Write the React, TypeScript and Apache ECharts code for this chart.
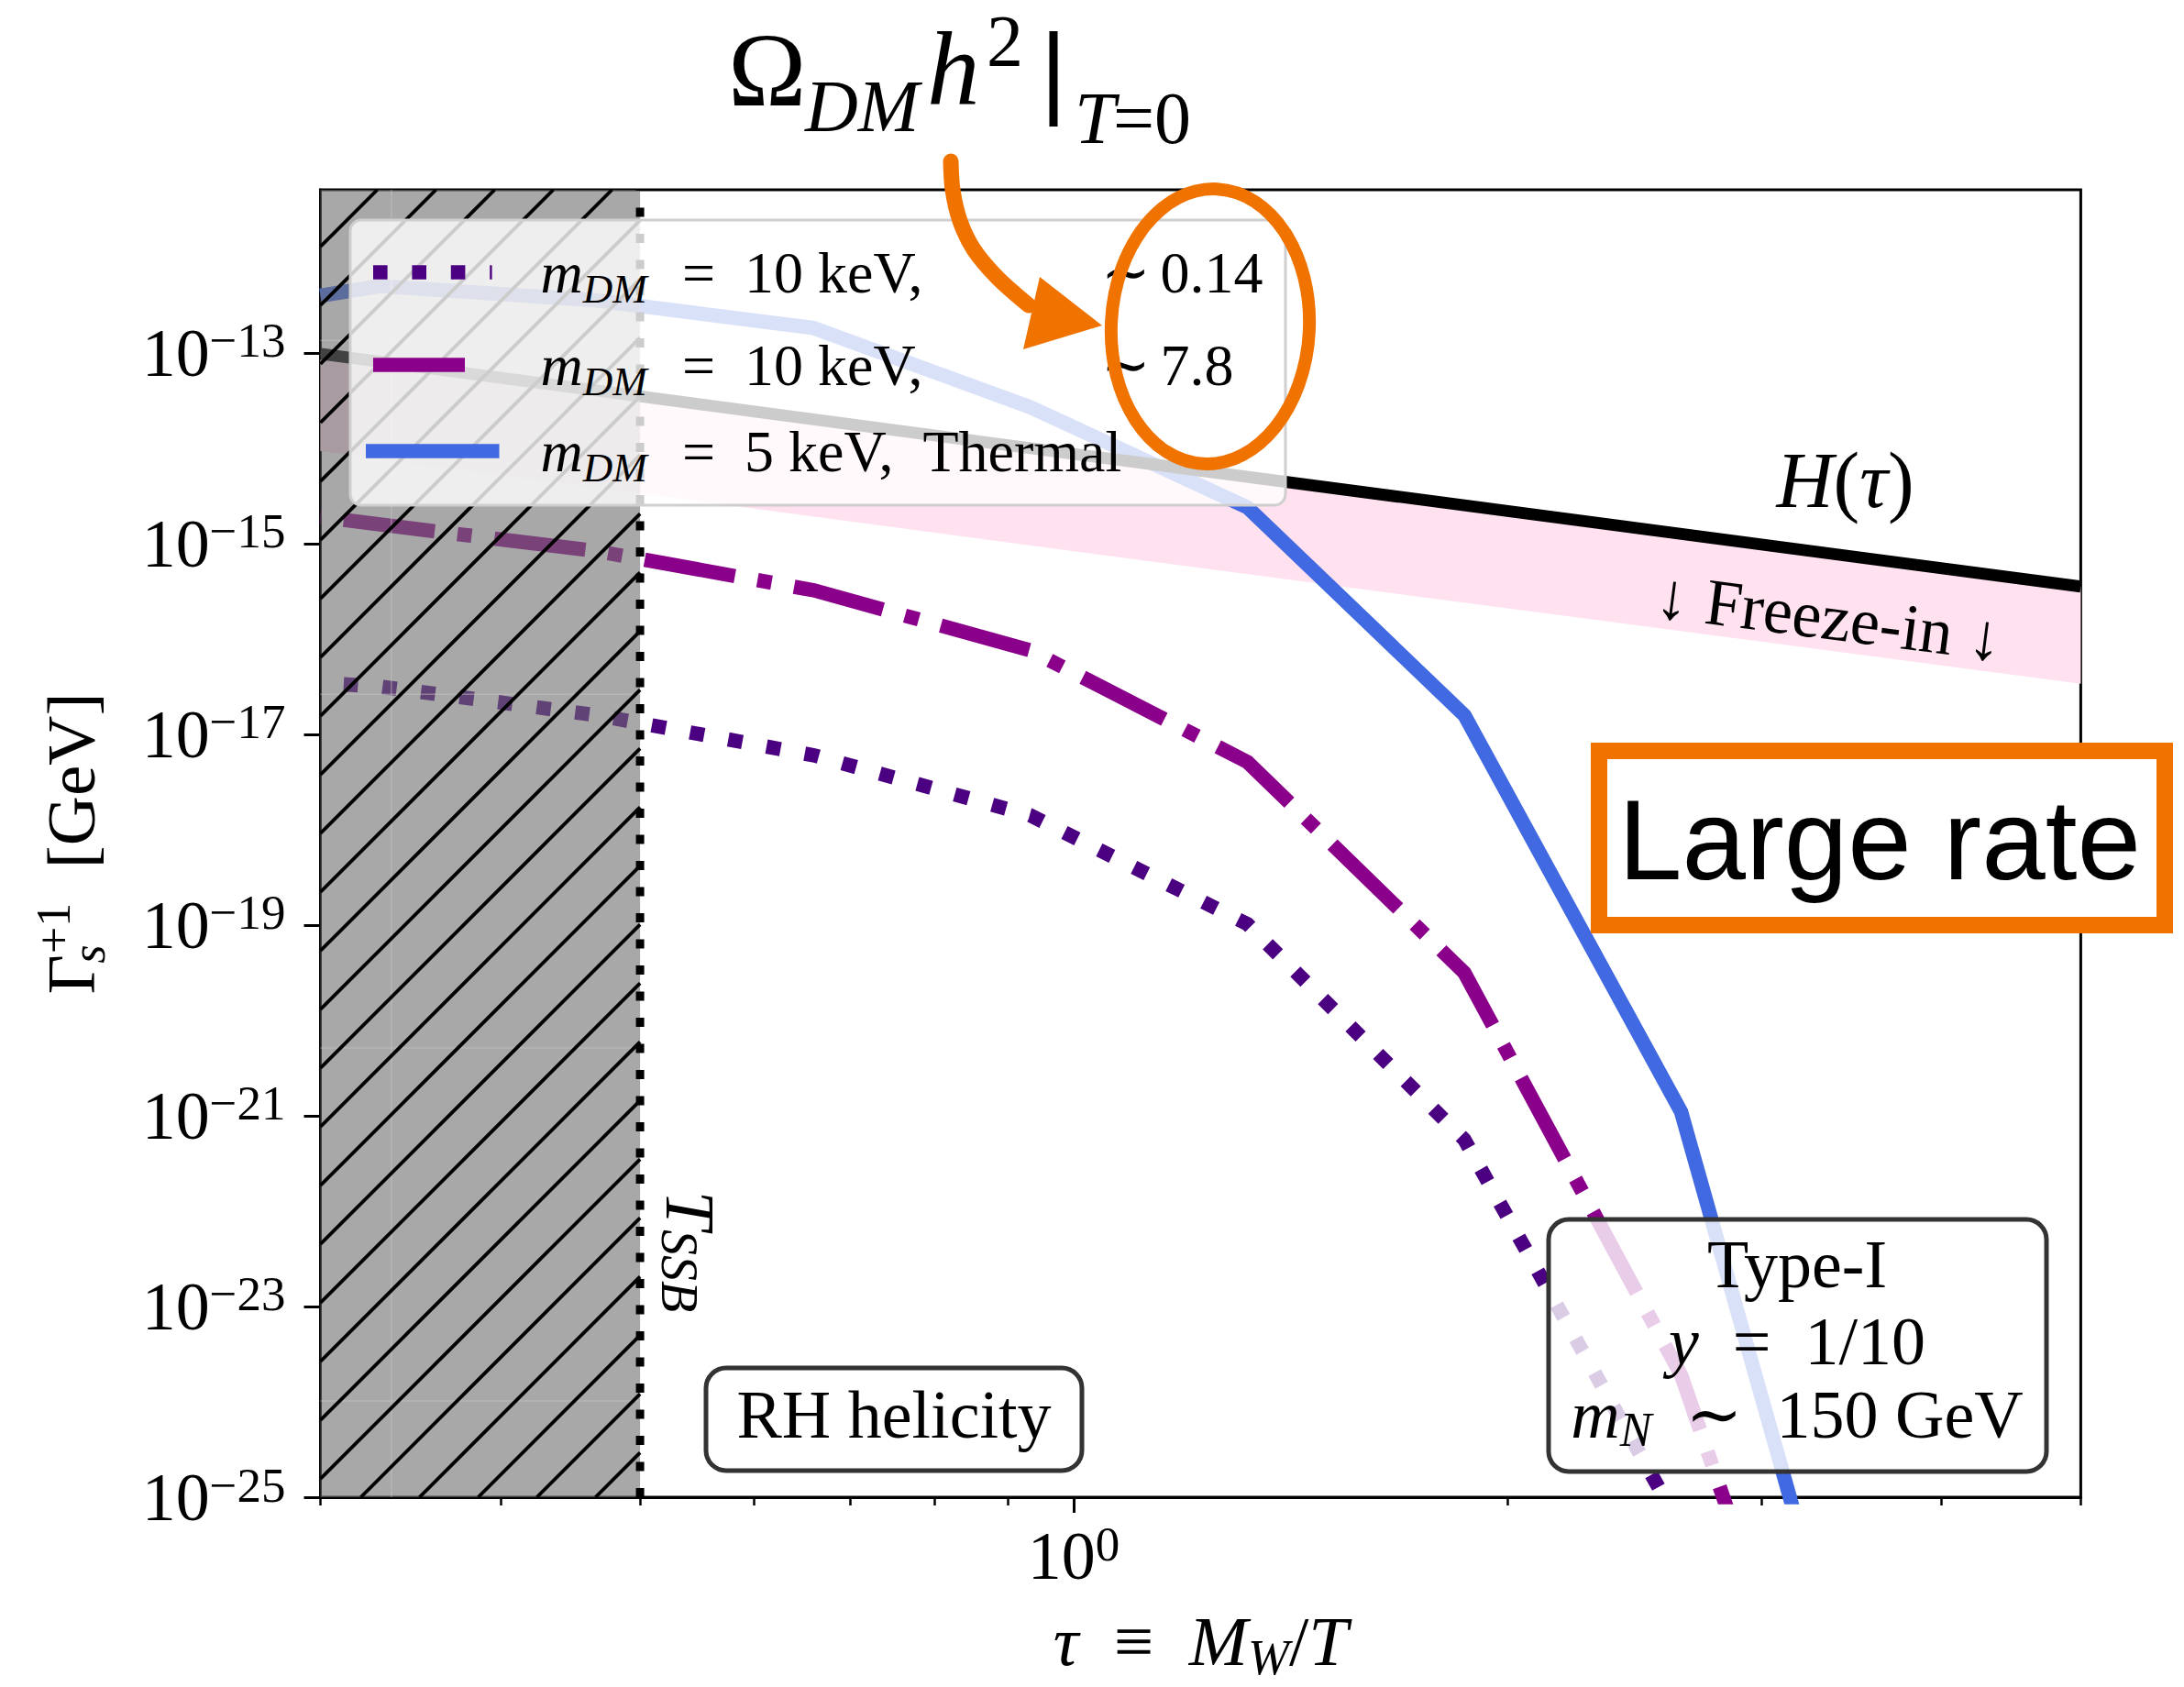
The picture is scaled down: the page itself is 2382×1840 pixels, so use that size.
import React, { useEffect, useRef } from 'react';
import * as echarts from 'echarts';

// ---------------- data (rates are log10(Γ / GeV)) ----------------
const tauGrid = [0.3, 0.33, 0.467, 0.66, 0.933, 1.32, 1.867, 2.64, 3.73];
const logRateDotted = [-16.46, -16.5, -16.8, -17.22, -17.85, -18.99, -21.25, -25.32, -32.0];
const logRateDashDot = [-14.72, -14.8, -15.08, -15.49, -16.12, -17.29, -19.5, -23.72, -30.3];
const logRateThermal = [-12.4, -12.3, -12.45, -12.74, -13.57, -14.62, -16.8, -20.96, -29.0];
const tauHubble = [0.3, 1, 5];
const logHubble = [-13.01, -14.06, -15.45];
const logFreezeInFloor = [-14.03, -15.08, -16.47];
const tauSSB = 0.5;
const tauRange = [0.3, 5];
const logRateRange = [-25, -11.29];
const yTickExponents = [-25, -23, -21, -19, -17, -15, -13];
const xMajorTicks = [1];
const xMinorTicks = [0.3, 0.4, 0.5, 0.6, 0.7, 0.8, 0.9, 2, 3, 4, 5];
const hatchGuideLogRate = [-12.87, -16.58, -20.29, -23.99];
const hatchGuideTau = [0.336];
const legendMass = ['10', '10', '5'];
const legendTail = ['', '', ',\u2002Thermal'];
const legendOmega = ['0.14', '7.8', ''];
const typeIBox = ['Type-I', '1/10', '150 GeV'];

// ---------------- styling ----------------
const lg = Math.log10;
const SERIF = "'Liberation Serif', 'DejaVu Serif', serif";
const SANS = "'Liberation Sans', 'DejaVu Sans', sans-serif";
const ORANGE = '#F07300';
const C_DOT = '#4B0082';
const C_DASHDOT = '#8B008B';
const C_THERMAL = '#4169E1';
const LW = 15.6;
const DASH_DOT = [LW, 26.8];
const DASH_DASHDOT = [100, 25, LW, 25];

const pairs = (ts: number[], vs: number[]) => ts.map((t, i) => [lg(t), vs[i]]);

function txt(x: number, y: number, text: string, size: number, extra: any = {}) {
  const { italic, align, rotation, rich, family, z } = extra;
  return {
    type: 'text',
    x,
    y,
    rotation: rotation || 0,
    z: z ?? 100,
    silent: true,
    style: {
      text,
      fill: '#000',
      fontSize: size,
      fontFamily: family || SERIF,
      fontStyle: italic ? 'italic' : 'normal',
      align: align || 'left',
      verticalAlign: 'middle',
      rich,
    },
  };
}

function buildOption(): any {
  const xMin = lg(tauRange[0]);
  const xMax = lg(tauRange[1]);
  const [yMin, yMax] = logRateRange;

  const tickRich = {
    b: { fontSize: 74, fontFamily: SERIF, lineHeight: 80, verticalAlign: 'middle', color: '#000' },
    s: { fontSize: 53, fontFamily: SERIF, lineHeight: 40, verticalAlign: 'top', color: '#000' },
  };

  const series: any[] = [
    {
      type: 'custom',
      name: 'Freeze-in band',
      coordinateSystem: 'cartesian2d',
      clip: true,
      silent: true,
      z: 1,
      data: tauHubble.map((t, i) => [lg(t), logHubble[i], logFreezeInFloor[i]]),
      renderItem: (params: any, api: any) => {
        if (params.dataIndex !== 0) return null;
        const top = tauHubble.map((t, i) => api.coord([lg(t), logHubble[i]]));
        const bot = tauHubble.map((t, i) => api.coord([lg(t), logFreezeInFloor[i]])).reverse();
        return { type: 'polygon', shape: { points: top.concat(bot) }, style: { fill: '#ffe1f0' } };
      },
    },
    {
      type: 'line',
      name: 'm_DM = 10 keV, Ω h² ∼ 0.14',
      data: pairs(tauGrid, logRateDotted),
      symbol: 'none',
      silent: true,
      z: 2,
      lineStyle: { color: C_DOT, width: LW, type: DASH_DOT, cap: 'butt', join: 'miter', dashOffset: 17 },
    },
    {
      type: 'line',
      name: 'm_DM = 10 keV, Ω h² ∼ 7.8',
      data: pairs(tauGrid, logRateDashDot),
      symbol: 'none',
      silent: true,
      z: 2,
      lineStyle: { color: C_DASHDOT, width: LW, type: DASH_DASHDOT, cap: 'butt', join: 'miter', dashOffset: 140 },
    },
    {
      type: 'line',
      name: 'm_DM = 5 keV, Thermal',
      data: pairs(tauGrid, logRateThermal),
      symbol: 'none',
      silent: true,
      z: 2,
      lineStyle: { color: C_THERMAL, width: LW, cap: 'butt', join: 'round' },
    },
    {
      type: 'line',
      name: 'H(τ)',
      data: pairs(tauHubble, logHubble),
      symbol: 'none',
      silent: true,
      z: 2,
      lineStyle: { color: '#000', width: 13, cap: 'butt' },
    },
    {
      type: 'custom',
      name: 'before SSB',
      coordinateSystem: 'cartesian2d',
      clip: true,
      silent: true,
      z: 4,
      data: [[xMin, lg(tauSSB)]],
      renderItem: (params: any, api: any) => {
        const a = api.coord([api.value(0), yMax]);
        const b = api.coord([api.value(1), yMin]);
        const x0 = a[0], y0 = a[1], x1 = b[0], y1 = b[1];
        const children: any[] = [
          { type: 'rect', shape: { x: x0, y: y0, width: x1 - x0, height: y1 - y0 }, style: { fill: 'rgba(110,110,110,0.6)' } },
        ];
        hatchGuideLogRate.forEach((gy) => {
          const p = api.coord([api.value(0), gy]);
          children.push({ type: 'line', shape: { x1: x0, y1: p[1], x2: x1, y2: p[1] }, style: { stroke: 'rgba(200,200,200,0.45)', lineWidth: 1.5 } });
        });
        hatchGuideTau.forEach((gt) => {
          const p = api.coord([lg(gt), yMin]);
          children.push({ type: 'line', shape: { x1: p[0], y1: y0, x2: p[0], y2: y1 }, style: { stroke: 'rgba(200,200,200,0.45)', lineWidth: 1.5 } });
        });
        const step = 64;
        for (let c = x0 + y0 + 62 - step; c <= x1 + y1 + step; c += step) {
          const xa = Math.max(x0, c - y1);
          const xb = Math.min(x1, c - y0);
          if (xb > xa) {
            children.push({ type: 'line', shape: { x1: xa, y1: c - xa, x2: xb, y2: c - xb }, style: { stroke: '#000', lineWidth: 3.8 } });
          }
        }
        return { type: 'group', children };
      },
    },
    {
      type: 'line',
      name: 'T_SSB',
      data: [[lg(tauSSB), yMin], [lg(tauSSB), yMax]],
      symbol: 'none',
      silent: true,
      z: 5,
      lineStyle: { color: '#000', width: 9, type: [10, 18.5], cap: 'butt' },
    },
  ];

  // ---------------- legend (drawn as graphics over the plot) ----------------
  const legendRowsY = [297, 398, 492];
  const legendColors = [C_DOT, C_DASHDOT, C_THERMAL];
  const legendDash: any[] = [DASH_DOT, DASH_DASHDOT, null];
  const legendEnd = [536.6, 531, 544.5];
  const legendMain = { fontSize: 64, fontFamily: SERIF, fontStyle: 'italic', lineHeight: 80, verticalAlign: 'middle', color: '#000' };
  const legendSub = { fontSize: 45, fontFamily: SERIF, fontStyle: 'italic', lineHeight: 46, verticalAlign: 'bottom', color: '#000' };
  const graphic: any[] = [
    {
      type: 'rect',
      z: 50,
      silent: true,
      shape: { x: 382, y: 240, width: 1020, height: 311, r: 12 },
      style: { fill: 'rgba(255,255,255,0.8)', stroke: '#cfcfcf', lineWidth: 3 },
    },
  ];
  legendRowsY.forEach((y, i) => {
    const solid = !legendDash[i];
    graphic.push({
      type: 'line',
      z: 51,
      silent: true,
      shape: { x1: solid ? 399 : 407, y1: y, x2: legendEnd[i], y2: y },
      style: { stroke: legendColors[i], lineWidth: LW, lineDash: legendDash[i] || null, lineCap: 'butt' },
    });
    graphic.push(txt(589.6, y, '{i|m}{sub|DM}', 64, { z: 51, rich: { i: legendMain, sub: legendSub } }));
    graphic.push(txt(744, y, `=\u2002${legendMass[i]} keV${legendTail[i] || ','}`, 64, { z: 51 }));
    if (legendOmega[i]) {
      graphic.push(txt(1201, y, '∼', 64, { z: 51 }));
      graphic.push(txt(1265.6, y, legendOmega[i], 64, { z: 51 }));
    }
  });

  // ---------------- in-plot annotations ----------------
  const annRich = {
    i: { fontSize: 74, fontFamily: SERIF, fontStyle: 'italic', lineHeight: 84, verticalAlign: 'middle', color: '#000' },
    r: { fontSize: 74, fontFamily: SERIF, lineHeight: 84, verticalAlign: 'middle', color: '#000' },
    sub: { fontSize: 52, fontFamily: SERIF, fontStyle: 'italic', lineHeight: 50, verticalAlign: 'bottom', color: '#000' },
  };
  graphic.push(
    txt(2012.5, 523.5, '{i|H}{r|(}{i|τ}{r|)}', 86, {
      align: 'center',
      rich: {
        i: { fontSize: 86, fontFamily: SERIF, fontStyle: 'italic', lineHeight: 96, verticalAlign: 'middle', color: '#000' },
        r: { fontSize: 86, fontFamily: SERIF, lineHeight: 96, verticalAlign: 'middle', color: '#000' },
      },
    }),
    txt(1995, 673, '↓ Freeze-in ↓', 72, { align: 'center', rotation: -0.128 }),
    // T_SSB
    txt(752.5, 1365, '{i|T}{sub|SSB}', 76, {
      align: 'center',
      rotation: -Math.PI / 2,
      rich: {
        i: { fontSize: 76, fontFamily: SERIF, fontStyle: 'italic', lineHeight: 80, verticalAlign: 'middle', color: '#000' },
        sub: { fontSize: 56, fontFamily: SERIF, fontStyle: 'italic', lineHeight: 51, verticalAlign: 'bottom', color: '#000' },
      },
    }),
    {
      type: 'rect',
      z: 60,
      silent: true,
      shape: { x: 770, y: 1492, width: 410, height: 112, r: 22 },
      style: { fill: 'rgba(255,255,255,0.8)', stroke: '#333', lineWidth: 5 },
    },
    txt(975, 1543, 'RH helicity', 74, { align: 'center' }),
    {
      type: 'rect',
      z: 60,
      silent: true,
      shape: { x: 1689, y: 1330, width: 543, height: 275, r: 22 },
      style: { fill: 'rgba(255,255,255,0.8)', stroke: '#333', lineWidth: 5 },
    },
    txt(1960, 1379, typeIBox[0], 74, { align: 'center' }),
    txt(1960, 1463, `{i|y}{r|\u2002=\u2002${typeIBox[1]}}`, 74, { align: 'center', rich: annRich }),
    txt(1960, 1543, `{i|m}{sub|N}{r|\u2002∼\u2002${typeIBox[2]}}`, 74, { align: 'center', rich: annRich })
  );

  // ---------------- orange hand-drawn overlay ----------------
  graphic.push(
    txt(794, 76, 'Ω', 115, { z: 200 }),
    txt(878, 116, 'DM', 80, { italic: true, z: 200 }),
    txt(1011, 75, 'h', 115, { italic: true, z: 200 }),
    txt(1076, 44.5, '2', 80, { z: 200 }),
    { type: 'line', z: 200, silent: true, shape: { x1: 1149, y1: 34, x2: 1149, y2: 138 }, style: { stroke: '#000', lineWidth: 9 } },
    txt(1172, 129, 'T', 80, { italic: true, z: 200 }),
    txt(1214, 129, '=0', 80, { z: 200 }),
    {
      type: 'polyline',
      z: 200,
      silent: true,
      shape: { points: [[1037, 176], [1039, 207], [1047, 241], [1062, 272], [1088, 303], [1122, 333]], smooth: 0.3 },
      style: { stroke: ORANGE, lineWidth: 17, fill: null, lineCap: 'round', lineJoin: 'round' },
    },
    {
      type: 'polygon',
      z: 200,
      silent: true,
      shape: { points: [[1134, 302], [1116, 381], [1202, 355]] },
      style: { fill: ORANGE },
    },
    {
      type: 'ellipse',
      z: 200,
      silent: true,
      x: 1320,
      y: 356,
      rotation: -0.05,
      shape: { cx: 0, cy: 0, rx: 108, ry: 150 },
      style: { fill: null, stroke: ORANGE, lineWidth: 14 },
    },
    {
      type: 'rect',
      z: 200,
      silent: true,
      shape: { x: 1744, y: 819, width: 617, height: 190 },
      style: { fill: '#fff', stroke: ORANGE, lineWidth: 18 },
    },
    txt(2050, 915, 'Large rate', 125, { align: 'center', family: SANS, z: 201 })
  );

  return {
    animation: false,
    backgroundColor: '#fff',
    grid: {
      left: 349.5,
      top: 207,
      width: 2269.4 - 349.5,
      height: 1637.6 - 207,
      show: true,
      borderColor: '#000',
      borderWidth: 3,
      backgroundColor: 'transparent',
      containLabel: false,
    },
    xAxis: [
      {
        type: 'value',
        min: xMin,
        max: xMax,
        position: 'bottom',
        axisLine: { show: true, onZero: false, lineStyle: { color: '#000', width: 3 } },
        axisTick: { show: true, customValues: xMajorTicks.map(lg), length: 17, lineStyle: { color: '#000', width: 3 } },
        axisLabel: {
          show: true,
          customValues: xMajorTicks.map(lg),
          margin: 24,
          formatter: (v: number) => `{b|10}{s|${Math.round(v)}}`,
          rich: tickRich,
        },
        splitLine: { show: false },
        name: '{i|τ}{r|\u2002≡\u2002}{i|M}{sub|W}{r|/}{i|T}',
        nameLocation: 'middle',
        nameGap: 112,
        nameTextStyle: {
          rich: {
            i: { fontSize: 77, fontFamily: SERIF, fontStyle: 'italic', lineHeight: 90, verticalAlign: 'middle', color: '#000' },
            r: { fontSize: 77, fontFamily: SERIF, lineHeight: 90, verticalAlign: 'middle', color: '#000' },
            sub: { fontSize: 54, fontFamily: SERIF, fontStyle: 'italic', lineHeight: 60, verticalAlign: 'bottom', color: '#000' },
          },
        },
      },
      {
        type: 'value',
        min: xMin,
        max: xMax,
        position: 'bottom',
        axisLine: { show: false, onZero: false },
        axisTick: { show: true, customValues: xMinorTicks.map(lg), length: 9, lineStyle: { color: '#000', width: 2.5 } },
        axisLabel: { show: false },
        splitLine: { show: false },
      },
    ],
    yAxis: {
      type: 'value',
      min: yMin,
      max: yMax,
      position: 'left',
      axisLine: { show: true, onZero: false, lineStyle: { color: '#000', width: 3 } },
      axisTick: { show: true, customValues: yTickExponents, length: 18, lineStyle: { color: '#000', width: 3 } },
      axisLabel: {
        show: true,
        customValues: yTickExponents,
        margin: 38,
        formatter: (v: number) => `{b|10}{s|−${Math.round(-v)}}`,
        rich: tickRich,
      },
      splitLine: { show: false },
      name: '{g|Γ}{sub|s}{sup|+1}{r|\u2002[GeV]}',
      nameLocation: 'middle',
      nameGap: 227,
      nameRotate: 90,
      nameTextStyle: {
        rich: {
          g: { fontSize: 75, fontFamily: SERIF, lineHeight: 90, verticalAlign: 'middle', color: '#000' },
          r: { fontSize: 75, fontFamily: SERIF, lineHeight: 90, verticalAlign: 'middle', color: '#000' },
          sub: { fontSize: 52, fontFamily: SERIF, fontStyle: 'italic', lineHeight: 35, verticalAlign: 'bottom', width: 1, color: '#000' },
          sup: { fontSize: 52, fontFamily: SERIF, lineHeight: 52, verticalAlign: 'top', color: '#000' },
        },
      },
    },
    series,
    graphic: { elements: graphic },
  };
}

export default function App() {
  const ref = useRef<HTMLDivElement>(null);
  useEffect(() => {
    document.body.style.margin = '0';
    const chart = echarts.init(ref.current as HTMLDivElement, null, { renderer: 'svg' });
    chart.setOption(buildOption());
    return () => chart.dispose();
  }, []);
  return (
    <div
      ref={ref}
      style={{ position: 'absolute', left: 0, top: 0, width: 2382, height: 1840, background: '#fff' }}
    />
  );
}
